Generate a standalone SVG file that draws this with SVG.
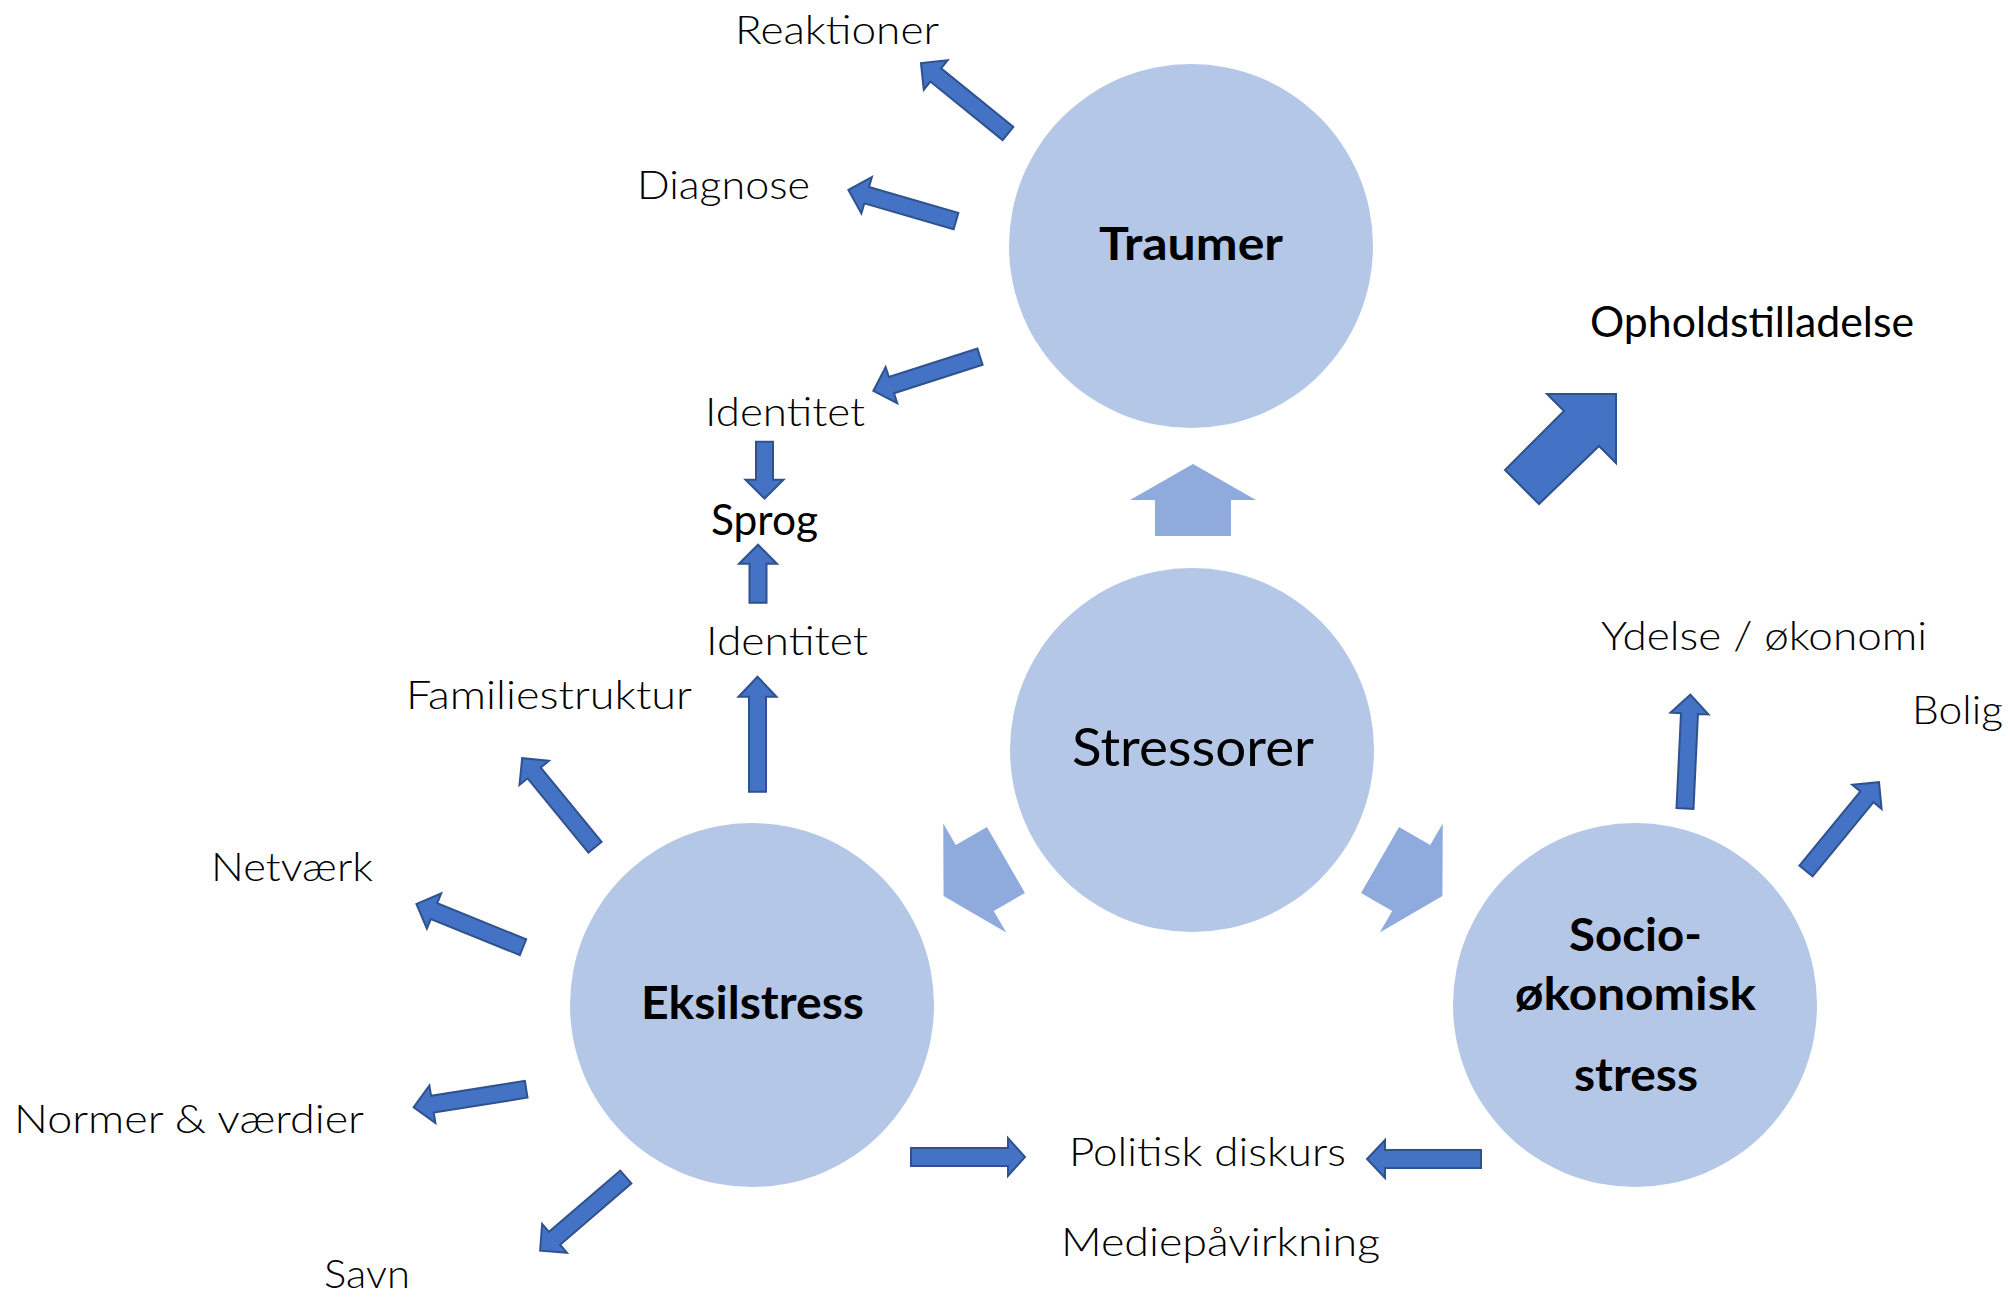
<svg xmlns="http://www.w3.org/2000/svg" xmlns:xlink="http://www.w3.org/1999/xlink" width="2010" height="1305" viewBox="0 0 2010 1305">
<style>
.node{fill:#B4C7E7;}
.cyc{fill:#8FAADC;}
.arr{fill:#4472C4;stroke:#2F528F;stroke-width:2;stroke-linejoin:miter;}
.t{font-family:Lato,"Liberation Sans",sans-serif;fill:#000;font-size:40px;font-weight:300;}
.r{font-weight:400;}
.b{font-family:Lato,"Liberation Sans",sans-serif;fill:#000;font-size:45px;font-weight:700;}
</style>
<defs>
<polygon id="cycArrow" points="1193,464 1256,500 1231,500 1231,536 1155,536 1155,500 1130,500"/>
</defs>
<rect width="2010" height="1305" fill="#fff"/>

<g id="node-traumer">
<circle class="node" cx="1191" cy="246" r="182"/>
<text class="b" x="1099" y="260" textLength="184" lengthAdjust="spacingAndGlyphs">Traumer</text>
</g>
<g id="node-stressorer">
<circle class="node" cx="1192" cy="750" r="182"/>
<text class="t r" x="1072" y="766" font-size="53" textLength="242" lengthAdjust="spacingAndGlyphs" style="font-size:53px">Stressorer</text>
</g>
<g id="node-eksilstress">
<circle class="node" cx="752" cy="1005" r="182"/>
<text class="b" x="641" y="1019" textLength="223" lengthAdjust="spacingAndGlyphs">Eksilstress</text>
</g>
<g id="node-socio">
<circle class="node" cx="1635" cy="1005" r="182"/>
<text class="b" x="1569" y="951" textLength="133" lengthAdjust="spacingAndGlyphs">Socio-</text>
<text class="b" x="1515" y="1010" textLength="241" lengthAdjust="spacingAndGlyphs">økonomisk</text>
<text class="b" x="1574" y="1091" textLength="124" lengthAdjust="spacingAndGlyphs">stress</text>
</g>

<g id="node-reaktioner"><text class="t" x="735" y="44" textLength="204" lengthAdjust="spacingAndGlyphs">Reaktioner</text></g>
<g id="node-diagnose"><text class="t" x="637" y="199" textLength="173" lengthAdjust="spacingAndGlyphs">Diagnose</text></g>
<g id="node-identitet1"><text class="t" x="705" y="426" textLength="160" lengthAdjust="spacingAndGlyphs">Identitet</text></g>
<g id="node-sprog"><text class="t r" x="711" y="535" textLength="107" lengthAdjust="spacingAndGlyphs" style="font-size:42px">Sprog</text></g>
<g id="node-identitet2"><text class="t" x="706" y="655" textLength="162" lengthAdjust="spacingAndGlyphs">Identitet</text></g>
<g id="node-familiestruktur"><text class="t" x="406" y="709" textLength="286" lengthAdjust="spacingAndGlyphs">Familiestruktur</text></g>
<g id="node-netvaerk"><text class="t" x="211" y="881" textLength="162" lengthAdjust="spacingAndGlyphs">Netværk</text></g>
<g id="node-normer"><text class="t" x="14" y="1133" textLength="350" lengthAdjust="spacingAndGlyphs">Normer &amp; værdier</text></g>
<g id="node-savn"><text class="t" x="324" y="1288" textLength="86" lengthAdjust="spacingAndGlyphs">Savn</text></g>
<g id="node-politisk"><text class="t" x="1069" y="1166" textLength="277" lengthAdjust="spacingAndGlyphs">Politisk diskurs</text></g>
<g id="node-medie"><text class="t" x="1061" y="1256" textLength="319" lengthAdjust="spacingAndGlyphs">Mediepåvirkning</text></g>
<g id="node-opholdstilladelse"><text class="t r" x="1590" y="337" textLength="324" lengthAdjust="spacingAndGlyphs" style="font-size:43px">Opholdstilladelse</text></g>
<g id="node-ydelse"><text class="t" x="1601" y="650" textLength="326" lengthAdjust="spacingAndGlyphs">Ydelse / økonomi</text></g>
<g id="node-bolig"><text class="t" x="1912" y="724" textLength="91" lengthAdjust="spacingAndGlyphs">Bolig</text></g>

<g id="connectors">
<use xlink:href="#cycArrow" href="#cycArrow" class="cyc"/>
<use xlink:href="#cycArrow" href="#cycArrow" class="cyc" transform="rotate(-120 1193 752)"/>
<use xlink:href="#cycArrow" href="#cycArrow" class="cyc" transform="rotate(120 1193 752)"/>

<polygon class="arr" points="1547,394 1616,394 1616,463 1599,446 1539,504 1505,470 1564,411"/>

<polygon class="arr" transform="translate(1008 133.5) rotate(219)" points="0,-8.5 93,-8.5 93,-19 112,0 93,19 93,8.5 0,8.5"/>
<polygon class="arr" transform="translate(956 221) rotate(196.1)" points="0,-8.5 93,-8.5 93,-19 112,0 93,19 93,8.5 0,8.5"/>
<polygon class="arr" transform="translate(980 356.7) rotate(162.2)" points="0,-8.5 93,-8.5 93,-19 112,0 93,19 93,8.5 0,8.5"/>
<polygon class="arr" transform="translate(764.5 441.7) rotate(90)" points="0,-8.5 38,-8.5 38,-19 57,0 38,19 38,8.5 0,8.5"/>
<polygon class="arr" transform="translate(758 602.7) rotate(-90)" points="0,-8.5 39,-8.5 39,-19 58,0 39,19 39,8.5 0,8.5"/>
<polygon class="arr" transform="translate(757.5 791.7) rotate(-90)" points="0,-8.5 95,-8.5 95,-19 115,0 95,19 95,8.5 0,8.5"/>
<polygon class="arr" transform="translate(595 847.2) rotate(230.7)" points="0,-8.5 96,-8.5 96,-19 115,0 96,19 96,8.5 0,8.5"/>
<polygon class="arr" transform="translate(523 947.2) rotate(202.1)" points="0,-8.5 96,-8.5 96,-19 115,0 96,19 96,8.5 0,8.5"/>
<polygon class="arr" transform="translate(526.2 1089.2) rotate(170.9)" points="0,-8.5 95,-8.5 95,-19 114,0 95,19 95,8.5 0,8.5"/>
<polygon class="arr" transform="translate(625.8 1177) rotate(139.3)" points="0,-8.5 94,-8.5 94,-19 113,0 94,19 94,8.5 0,8.5"/>
<polygon class="arr" transform="translate(911 1157) rotate(0)" points="0,-9 97,-9 97,-19 114,0 97,19 97,9 0,9"/>
<polygon class="arr" transform="translate(1481 1159) rotate(180)" points="0,-9 96,-9 96,-19 114,0 96,19 96,9 0,9"/>
<polygon class="arr" transform="translate(1685 808.5) rotate(-87.3)" points="0,-8.5 95,-8.5 95,-19 114,0 95,19 95,8.5 0,8.5"/>
<polygon class="arr" transform="translate(1806 871) rotate(-50.6)" points="0,-8.5 96,-8.5 96,-19 115,0 96,19 96,8.5 0,8.5"/>
</g>
</svg>
